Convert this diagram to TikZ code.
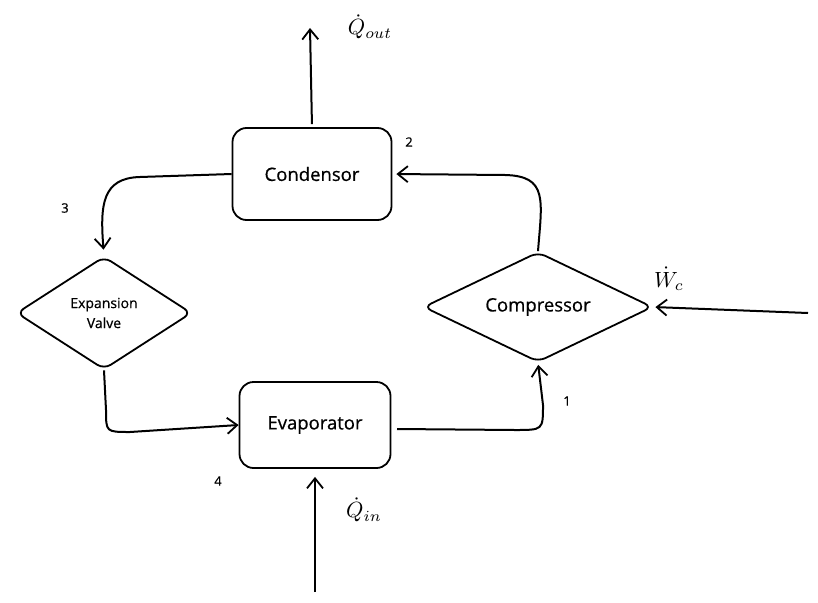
\documentclass[tikz,border=0pt]{standalone}
\usepackage{fontspec}
\newfontfamily\hand[FakeBold=0.6]{Open Sans}
\usetikzlibrary{shapes.geometric,arrows.meta}
\begin{document}
\begin{tikzpicture}[x=1pt,y=-1pt,
  box/.style={draw,line width=1.8pt,rounded corners=14pt,minimum width=159pt,minimum height=92pt,font=\hand\fontsize{18.5}{22}\selectfont},
  dia/.style={draw,diamond,line width=1.8pt,rounded corners=8pt,inner sep=0pt,aspect=2},
  arr/.style={line width=2pt,-{Straight Barb[length=10pt,width=16pt,line width=1.8pt]}},
  num/.style={font=\hand\fontsize{13}{15}\selectfont}]
\useasboundingbox (0,0) rectangle (818,602);
\node[box] (cond) at (312,174) {Condensor};
\node[box,minimum width=151pt,minimum height=86pt] (evap) at (315,425) {Evaporator};
\node[dia,minimum width=229pt,minimum height=110pt,font=\hand\fontsize{18.5}{22}\selectfont] (comp) at (538,307) {Compressor};
\node[dia,minimum width=175pt,minimum height=113pt,font=\hand\fontsize{14}{20}\selectfont,align=center] (valve) at (104,313) {Expansion\\Valve};
\coordinate (qo) at (310,28);
\coordinate (qi) at (315,592);
\coordinate (wc) at (808,313);
\coordinate (e1) at (397,429);
\draw[arr,shorten <=3pt] (cond.north) -- (qo);
\draw[arr,shorten >=8pt] (qi) -- (evap.south);
\draw[arr,shorten >=2pt] (wc) -- (comp.east);
\draw[arr,shorten >=4pt] (comp.north) .. controls (542,200) and (548,176) .. (505,175) -- (cond.east);
\draw[arr,shorten >=6pt] (cond.west) -- (140,177) .. controls (102,178) and (100,205) .. (valve.north);
\draw[arr] (valve.south) -- (106,410) .. controls (106,432) .. (130,432) -- (evap.west);
\draw[arr,shorten >=2pt] (e1) -- (515,430) .. controls (543,430) .. (543,405) -- (comp.south);
\node (lqo) at (370,27) {\scalebox{2.2}{$\dot{Q}_{out}$}};
\node (lqi) at (364,510) {\scalebox{2.2}{$\dot{Q}_{in}$}};
\node (lwc) at (669,279) {\scalebox{2.2}{$\dot{W}_c$}};
\node[num] (n1) at (567,401) {1};
\node[num] (n2) at (409,142) {2};
\node[num] (n3) at (65,208) {3};
\node[num] (n4) at (218,481) {4};
\end{tikzpicture}
\end{document}
